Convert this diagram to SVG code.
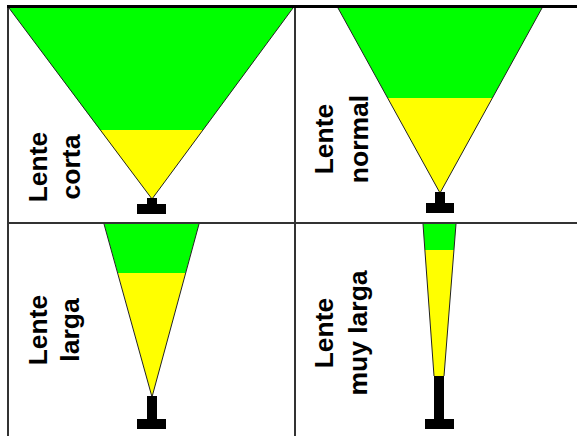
<svg xmlns="http://www.w3.org/2000/svg" width="577" height="436" viewBox="0 0 577 436">
<style>
.g{fill:#00ff00}
.y{fill:#ffff00}
.edge{stroke:#222;stroke-width:1;fill:none}
.cam{fill:#000}
.lbl{font-family:"Liberation Sans",Arial,sans-serif;font-weight:bold;font-size:26.5px;fill:#000;text-anchor:middle}
.grid{stroke:#333;stroke-width:2;fill:none}
</style>
<rect width="577" height="436" fill="#fff"/>
<g id="grid">
<line class="grid" x1="8" y1="5" x2="8" y2="436"/>
<line class="grid" x1="295" y1="7" x2="295" y2="436"/>
<line class="grid" x1="8" y1="223" x2="577" y2="223"/>
<line x1="7" y1="6.5" x2="577" y2="6.5" stroke="#000" stroke-width="3"/>
</g>
<g id="lente-corta">
<polygon class="g" points="9,8 293,8 203,130 100,130"/>
<polygon class="y" points="100,130 203,130 152,199"/>
<polyline class="edge" points="9,8 152,199 293,8"/>
<rect class="cam" x="147" y="198" width="10" height="6"/>
<rect class="cam" x="137" y="204" width="29" height="10"/>
<text class="lbl" transform="translate(47,167) rotate(-90)">Lente</text>
<text class="lbl" transform="translate(80,167) rotate(-90)">corta</text>
</g>
<g id="lente-normal">
<polygon class="g" points="338,8 542,8 492.4,98 387.6,98"/>
<polygon class="y" points="387.6,98 492.4,98 440,193"/>
<polyline class="edge" points="338,8 440,193 542,8"/>
<rect class="cam" x="435" y="192" width="10" height="11"/>
<rect class="cam" x="426" y="203" width="28" height="10"/>
<text class="lbl" transform="translate(333,139) rotate(-90)">Lente</text>
<text class="lbl" transform="translate(368,139) rotate(-90)">normal</text>
</g>
<g id="lente-larga">
<polygon class="g" points="104,224 199,224 185.5,273 117.8,273"/>
<polygon class="y" points="117.8,273 185.5,273 152,397"/>
<polyline class="edge" points="104,224 152,397 199,224"/>
<rect class="cam" x="147" y="396" width="10" height="23"/>
<rect class="cam" x="137" y="419" width="29" height="10"/>
<text class="lbl" transform="translate(47,330) rotate(-90)">Lente</text>
<text class="lbl" transform="translate(79,330) rotate(-90)">larga</text>
</g>
<g id="lente-muy-larga">
<polygon class="g" points="423,224 456,224 453.9,250 424.9,250"/>
<polygon class="y" points="424.9,250 453.9,250 444,376 434,376"/>
<polyline class="edge" points="423,224 434,376"/>
<polyline class="edge" points="456,224 444,376"/>
<rect class="cam" x="434" y="376" width="10" height="43"/>
<rect class="cam" x="425" y="419" width="29" height="10"/>
<text class="lbl" transform="translate(333,333) rotate(-90)">Lente</text>
<text class="lbl" transform="translate(367,333) rotate(-90)">muy larga</text>
</g>
</svg>
